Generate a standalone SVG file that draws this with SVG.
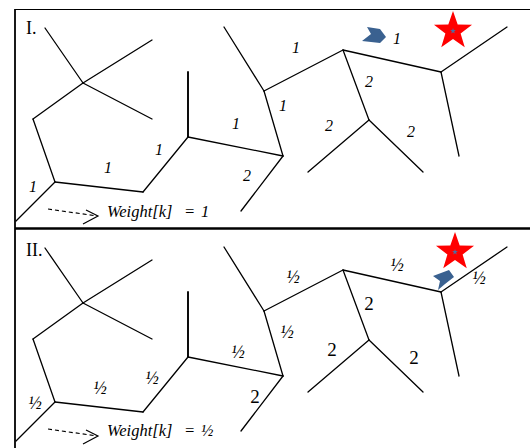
<svg xmlns="http://www.w3.org/2000/svg" width="530" height="448" viewBox="0 0 530 448">
  <style>
    .e { stroke: #000; stroke-width: 1.3; fill: none; stroke-linecap: round; }
    .thick { stroke-width: 1.9; }
    .frame { stroke: #000; fill: none; }
    text { font-family: "Liberation Serif", "DejaVu Serif", serif; fill: #000; }
    .lbl { font-style: italic; font-size: 16px; text-anchor: middle; }
    .half { font-style: italic; font-size: 18px; text-anchor: middle; }
    .lbl2 { font-size: 19px; text-anchor: middle; }
    .title { font-size: 18px; }
    .wt { font-style: italic; font-size: 16.5px; }
    .dash { stroke: #000; stroke-width: 1.2; fill: none; stroke-dasharray: 4 3; }
    .head { stroke: #000; stroke-width: 1.2; fill: none; }
    .star { fill: #ff0000; }
    .mini { fill: #4a6fa5; }
    .chev { fill: #3a6190; }
  </style>
  <defs>
    <g id="edgeset">
      <line class="e" x1="45" y1="28" x2="83" y2="83"/>
      <line class="e" x1="83" y1="83" x2="152" y2="119"/>
      <line class="e" x1="152" y1="40" x2="83" y2="83"/>
      <line class="e" x1="83" y1="83" x2="33" y2="119"/>
      <line class="e" x1="33" y1="119" x2="55" y2="182"/>
      <line class="e" x1="55" y1="182" x2="143" y2="192"/>
      <line class="e" x1="143" y1="192" x2="188" y2="137"/>
      <line class="e thick" x1="188" y1="72" x2="188" y2="137"/>
      <line class="e" x1="188" y1="137" x2="283" y2="156"/>
      <line class="e" x1="55" y1="182" x2="16" y2="221"/>
      <line class="e" x1="283" y1="156" x2="241" y2="211"/>
      <line class="e" x1="224" y1="27" x2="264" y2="91"/>
      <line class="e" x1="264" y1="91" x2="283" y2="156"/>
      <line class="e" x1="264" y1="91" x2="343" y2="50"/>
      <line class="e" x1="343" y1="50" x2="441" y2="72"/>
      <line class="e" x1="441" y1="72" x2="507" y2="27"/>
      <line class="e" x1="441" y1="72" x2="459" y2="156"/>
      <line class="e" x1="343" y1="50" x2="369" y2="120"/>
      <line class="e" x1="369" y1="120" x2="308" y2="172"/>
      <line class="e" x1="369" y1="120" x2="423" y2="172"/>
    </g>
    <g id="arrow">
      <line class="dash" x1="48" y1="209" x2="97" y2="216"/>
      <polyline class="head" points="86,210 98,216 83,224"/>
    </g>
    <g id="bigstar">
      <polygon class="star" points="0,-20 4.7,-6.47 19.02,-6.18 7.61,2.47 11.76,16.18 0,8 -11.76,16.18 -7.61,2.47 -19.02,-6.18 -4.7,-6.47"/>
      <polygon class="mini" points="0,-3 0.7,-1 2.85,-0.93 1.14,0.37 1.76,2.43 0,1.2 -1.76,2.43 -1.14,0.37 -2.85,-0.93 -0.7,-1"/>
    </g>
  </defs>

  <g id="frame">
    <line class="frame" x1="15" y1="9.5" x2="530" y2="9.5" stroke-width="1.2"/>
    <line class="frame" x1="15" y1="9" x2="15" y2="448" stroke-width="1.8"/>
    <line class="frame" x1="15" y1="228.5" x2="530" y2="228.5" stroke-width="2.5"/>
  </g>

  <!-- Panel I -->
  <g id="panel1">
    <g id="connectors1">
      <use href="#edgeset"/>
      <use href="#arrow"/>
    </g>
    <g id="title1"><text class="title" x="26" y="34">I.</text></g>
    <g id="labels1">
      <text class="lbl" x="33" y="192">1</text>
      <text class="lbl" x="108" y="173">1</text>
      <text class="lbl" x="159" y="155">1</text>
      <text class="lbl" x="236" y="129">1</text>
      <text class="lbl" x="247" y="181">2</text>
      <text class="lbl" x="296" y="53">1</text>
      <text class="lbl" x="397" y="44">1</text>
      <text class="lbl" x="283" y="111">1</text>
      <text class="lbl" x="369" y="87">2</text>
      <text class="lbl" x="329" y="131">2</text>
      <text class="lbl" x="411" y="137">2</text>
    </g>
    <g id="weight1"><text class="wt" x="107" y="216.5">Weight[k]<tspan x="184">=</tspan><tspan x="201">1</tspan></text></g>
    <g id="marker1">
      <polygon class="chev" points="367,27 380,29 386,37 380,43 362,41 371,34"/>
    </g>
    <g id="star1"><use href="#bigstar" transform="translate(453,31)"/></g>
  </g>

  <!-- Panel II -->
  <g id="panel2">
    <g id="connectors2" transform="translate(0,220)">
      <use href="#edgeset"/>
      <use href="#arrow"/>
    </g>
    <g id="title2"><text class="title" x="26" y="256">II.</text></g>
    <g id="labels2">
      <text class="half" x="35" y="409">½</text>
      <text class="half" x="100" y="394">½</text>
      <text class="half" x="152" y="384">½</text>
      <text class="half" x="238" y="358">½</text>
      <text class="half" x="293" y="283">½</text>
      <text class="half" x="397" y="271">½</text>
      <text class="half" x="479" y="284">½</text>
      <text class="half" x="287" y="338">½</text>
      <text class="lbl2" x="255" y="403">2</text>
      <text class="lbl2" x="369" y="310">2</text>
      <text class="lbl2" x="332" y="356">2</text>
      <text class="lbl2" x="414" y="364">2</text>
    </g>
    <g id="weight2"><text class="wt" x="107" y="435.5">Weight[k]<tspan x="184">=</tspan><tspan x="201">½</tspan></text></g>
    <g id="marker2">
      <polygon class="chev" points="433,276 449,270 454,277 445,284 438,290 440,281"/>
    </g>
    <g id="star2"><use href="#bigstar" transform="translate(455,252)"/></g>
  </g>
</svg>
